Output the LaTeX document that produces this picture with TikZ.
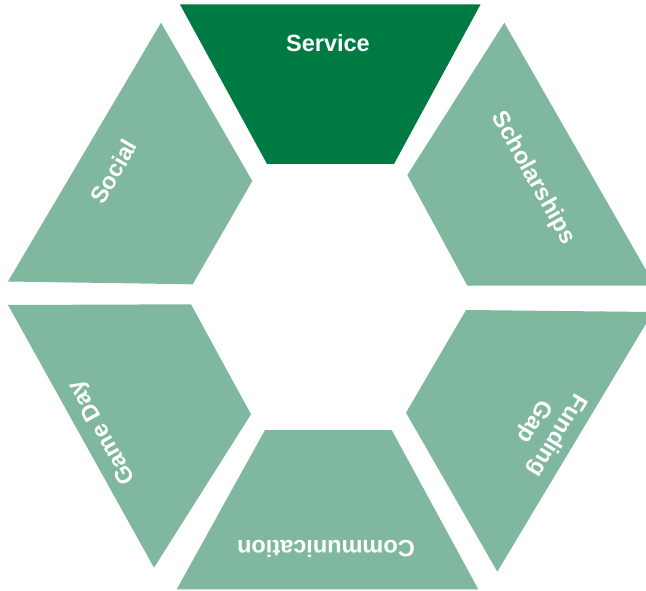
\documentclass[tikz,border=0pt]{standalone}
\usepackage{fontspec}
\setmainfont{Liberation Sans}
\definecolor{darkg}{HTML}{007A43}
\definecolor{lightg}{HTML}{80B89F}
\tikzset{
  seg/.style={fill=lightg, draw=none},
  segactive/.style={fill=darkg, draw=none},
  lbl/.style={text=white, font=\fontsize{23.5}{27}\selectfont\bfseries, align=center, inner sep=0pt}
}
\begin{document}
\begin{tikzpicture}[x=1pt, y=-1pt]
\useasboundingbox (0,0) rectangle (646,591);
\clip (0,0) rectangle (646,591);
% segments
\path[segactive] (180,4.5) -- (480.5,4.5) -- (394,164) -- (267,164) -- cycle;
\path[seg] (504.3,22.7) -- (655,285.7) -- (467.3,285.7) -- (407.3,175) -- cycle;
\path[seg] (161,22.7) -- (252.3,181) -- (192.7,284.3) -- (8,281.5) -- cycle;
\path[seg] (8,305) -- (191,304.3) -- (251,414.3) -- (154,567.7) -- cycle;
\path[seg] (466,310) -- (653,312) -- (497.3,571.7) -- (406,412.7) -- cycle;
\path[seg] (265,430) -- (391.7,430) -- (478.3,589.3) -- (176.7,589.3) -- cycle;
% labels
\node[lbl] (service) at (328,43) {Service};
\node[lbl, rotate=-61] (schol) at (533,178) {Scholarships};
\node[lbl, rotate=60] (social) at (113.5,171.5) {Social};
\node[lbl, rotate=119] (gameday) at (103,432) {Game Day};
\node[lbl, rotate=-121] (funding) at (545.5,428) {Funding\\Gap};
\node[lbl, rotate=180] (comm) at (326,549) {Communication};
\end{tikzpicture}
\end{document}
